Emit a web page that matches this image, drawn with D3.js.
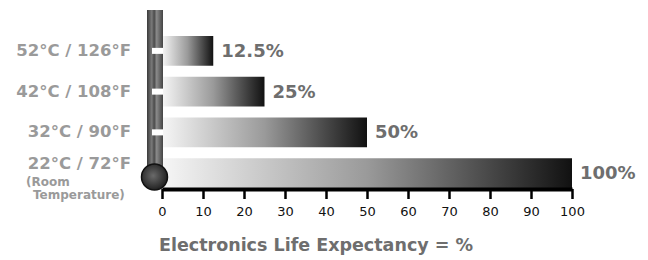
<!DOCTYPE html>
<html>
<head>
<meta charset="utf-8">
<script src="https://cdn.jsdelivr.net/npm/d3@7"></script>
<style>
  body { margin: 0; background: #fff; }
  svg { display: block; font-family: Verdana, "DejaVu Sans", sans-serif; }
</style>
</head>
<body>
<div id="chart"></div>
<script>
// chart data
var temps = ['52°C / 126°F', '42°C / 108°F', '32°C / 90°F', '22°C / 72°F'];
var lifePct = [12.5, 25, 50, 100];
var valueLabels = ['12.5%', '25%', '50%', '100%'];
var xTicks = [0, 10, 20, 30, 40, 50, 60, 70, 80, 90, 100];

var width = 648, height = 260;

var svg = d3.select('#chart')
  .append('svg')
    .attr('width', width)
    .attr('height', height);

var x = d3.scaleLinear()
  .domain([0, 100])
  .range([162, 572]);

var y = d3.scaleBand()
  .domain(temps)
  .range([36, 188])
  .paddingInner(0.27)
  .paddingOuter(0);

var defs = svg.append('defs');

// bar gradient, light on the left to near black on the right
var grad = defs.append('linearGradient')
    .attr('id', 'barGrad')
    .attr('x1', '0').attr('x2', '1').attr('y1', '0').attr('y2', '0');
grad.append('stop').attr('offset', '0%').attr('stop-color', '#f6f6f6');
grad.append('stop').attr('offset', '50%').attr('stop-color', '#9a9a9a');
grad.append('stop').attr('offset', '100%').attr('stop-color', '#111');

// tube gradient
var tubeGrad = defs.append('linearGradient')
    .attr('id', 'tubeGrad')
    .attr('x1', '0').attr('x2', '1').attr('y1', '0').attr('y2', '0');
tubeGrad.append('stop').attr('offset', '0%').attr('stop-color', '#3a3a3a');
tubeGrad.append('stop').attr('offset', '30%').attr('stop-color', '#7a7a7a');
tubeGrad.append('stop').attr('offset', '45%').attr('stop-color', '#4a4a4a');
tubeGrad.append('stop').attr('offset', '60%').attr('stop-color', '#8a8a8a');
tubeGrad.append('stop').attr('offset', '100%').attr('stop-color', '#444');

var bulbGrad = defs.append('radialGradient')
    .attr('id', 'bulbGrad')
    .attr('cx', '0.45').attr('cy', '0.45').attr('r', '0.6');
bulbGrad.append('stop').attr('offset', '0%').attr('stop-color', '#6a6a6a');
bulbGrad.append('stop').attr('offset', '70%').attr('stop-color', '#333');
bulbGrad.append('stop').attr('offset', '100%').attr('stop-color', '#1a1a1a');

// bars
var rows = temps.map(function(t, i) { return {temp: t, val: lifePct[i], label: valueLabels[i]}; });

svg.append('g')
  .selectAll('rect')
  .data(rows)
  .join('rect')
    .attr('x', x(0))
    .attr('y', d => y(d.temp))
    .attr('width', d => x(d.val) - x(0))
    .attr('height', y.bandwidth())
    .attr('fill', 'url(#barGrad)');

// value labels
svg.append('g')
  .selectAll('text')
  .data(rows)
  .join('text')
    .attr('x', d => x(d.val) + 8)
    .attr('y', d => y(d.temp) + y.bandwidth() / 2 + 6)
    .attr('fill', '#6e6e6e')
    .attr('font-weight', 'bold')
    .attr('font-size', '18px')
    .text(d => d.label);

// x axis
var axis = svg.append('g')
    .attr('transform', 'translate(0,' + (y.range()[1] + 1) + ')')
    .call(d3.axisBottom(x).tickValues(xTicks).tickSize(10).tickSizeOuter(0).tickPadding(8));
axis.select('.domain').attr('stroke', '#000').attr('stroke-width', 4);
axis.selectAll('.tick line').attr('stroke', '#000').attr('stroke-width', 2.5);
axis.selectAll('.tick text')
    .attr('font-size', '13px')
    .attr('font-family', 'Verdana, "DejaVu Sans", sans-serif')
    .attr('fill', '#111');

// thermometer
var tubeX = 147, tubeW = 16;
svg.append('rect')
    .attr('x', tubeX).attr('y', 10)
    .attr('width', tubeW).attr('height', 168)
    .attr('fill', 'url(#tubeGrad)');

svg.append('g')
  .selectAll('rect')
  .data(temps.slice(0, 3))
  .join('rect')
    .attr('x', tubeX + 5)
    .attr('y', d => y(d) + y.bandwidth() / 2 - 3)
    .attr('width', tubeW - 5)
    .attr('height', 6)
    .attr('fill', '#fff');

svg.append('circle')
    .attr('cx', 154.5).attr('cy', 177).attr('r', 13)
    .attr('fill', 'url(#bulbGrad)')
    .attr('stroke', '#111').attr('stroke-width', 1.5);

// temperature labels
svg.append('g')
  .selectAll('text')
  .data(temps)
  .join('text')
    .attr('x', 131)
    .attr('y', d => y(d) + y.bandwidth() / 2 + 5 - (d === temps[3] ? 9 : 0))
    .attr('text-anchor', 'end')
    .attr('fill', '#9a9a9a')
    .attr('font-weight', 'bold')
    .attr('font-size', '16.5px')
    .text(d => d);

svg.append('text')
    .attr('x', 26).attr('y', 186)
    .attr('fill', '#9a9a9a').attr('font-weight', 'bold').attr('font-size', '12px')
    .text('(Room');
svg.append('text')
    .attr('x', 33).attr('y', 199)
    .attr('fill', '#9a9a9a').attr('font-weight', 'bold').attr('font-size', '12px')
    .text('Temperature)');

// title
svg.append('text')
    .attr('x', 316).attr('y', 251)
    .attr('text-anchor', 'middle')
    .attr('fill', '#6e6e6e')
    .attr('font-weight', 'bold')
    .attr('font-size', '17.5px')
    .text('Electronics Life Expectancy = %');
</script>
</body>
</html>
